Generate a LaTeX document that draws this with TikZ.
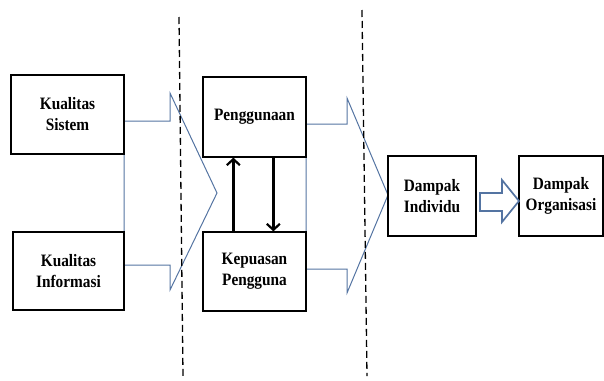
\documentclass[tikz,border=0pt]{standalone}
\usepackage{fontspec}
\setmainfont{Liberation Serif}[FakeStretch=0.88]
\usetikzlibrary{arrows.meta}
\definecolor{arrblue}{RGB}{84,116,162}
\tikzset{
  box/.style={draw=black, line width=1.3pt, fill=white, align=center, inner sep=0pt,
    font=\fontsize{17.4}{21}\selectfont\bfseries},
  bigarrow/.style={draw=arrblue, line width=1pt, line join=miter},
  smallarrow/.style={draw=arrblue, line width=1.7pt, fill=white, line join=miter},
  linkarrow/.style={line width=2.6pt, -{Straight Barb[length=6pt,width=13pt,line width=2.2pt]}},
  divider/.style={line width=1.3pt, dash pattern=on 7pt off 4pt}
}
\begin{document}
\begin{tikzpicture}[x=1pt,y=-1pt]
\useasboundingbox (0,0) rectangle (604,380);
% big hollow arrows (drawn under the boxes)
\draw[bigarrow] (124,121) -- (170,121) -- (170,93) -- (217,193) -- (170,290) -- (170,265) -- (124,265) -- cycle;
\draw[bigarrow] (306,124) -- (347,124) -- (347,98) -- (388,195) -- (347,293) -- (347,269) -- (306,269) -- cycle;
% boxes
\node[box, minimum width=113pt, minimum height=79pt] (ks) at (67.5,114.5) {Kualitas\\Sistem};
\node[box, minimum width=111pt, minimum height=78pt] (ki) at (68.5,271) {Kualitas\\Informasi};
\node[box, minimum width=103pt, minimum height=80pt] (pg) at (254.5,117) {Penggunaan};
\node[box, minimum width=103pt, minimum height=79pt] (kp) at (254.5,271.5) {Kepuasan\\Pengguna};
\node[box, minimum width=88pt, minimum height=80pt] (di) at (432,196) {Dampak\\Individu};
\node[box, minimum width=84pt, minimum height=80pt] (do) at (561,196) {Dampak\\Organisasi};
% small arrow between impacts
\draw[smallarrow] (480,193) -- (502,193) -- (502,180) -- (519,201) -- (502,222) -- (502,211) -- (480,211) -- cycle;
% feedback arrows
\draw[linkarrow] ([xshift=31pt]kp.north west) -- ([xshift=31pt]pg.south west);
\draw[linkarrow] ([xshift=71pt]pg.south west) -- ([xshift=71pt]kp.north west);
% dashed dividers
\draw[divider] (179,17) -- (183,376);
\draw[divider] (362,10) -- (367,376);
\end{tikzpicture}
\end{document}
